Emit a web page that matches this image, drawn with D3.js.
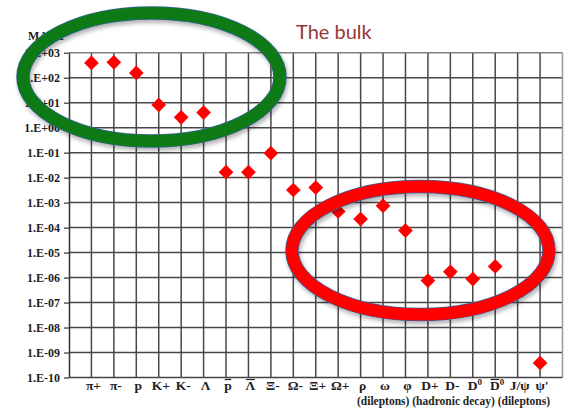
<!DOCTYPE html>
<html>
<head>
<meta charset="utf-8">
<script src="https://cdn.jsdelivr.net/npm/d3@7"></script>
<style>
  html, body { margin: 0; padding: 0; background: #fff; }
  svg { display: block; }
</style>
</head>
<body>
<svg id="chart" width="573" height="408"></svg>
<script>
// Particle species along the category axis
const categories = ["π+", "π-", "p", "K+", "K-", "Λ", "p̄", "Λ̄", "Ξ-", "Ω-", "Ξ+", "Ω+",
                    "ρ", "ω", "φ", "D+", "D-", "D0", "D̄0", "J/ψ", "ψ'"];
// Yield per species (null = no point)
const yields = [390, 410, 155, 8.1, 2.6, 4.0, 0.0165, 0.0165, 0.095, 3.2e-3, 4.0e-3, 4.4e-4,
                2.2e-4, 7.4e-4, 7.6e-5, 7.6e-7, 1.7e-6, 8.7e-7, 2.8e-6, null, 3.8e-10];
// Decade ticks on the log axis
const yTicks = [1e3, 1e2, 1e1, 1e0, 1e-1, 1e-2, 1e-3, 1e-4, 1e-5, 1e-6, 1e-7, 1e-8, 1e-9, 1e-10];
const yTickLabels = ["1.E+03", "1.E+02", "1.E+01", "1.E+00", "1.E-01", "1.E-02", "1.E-03",
                     "1.E-04", "1.E-05", "1.E-06", "1.E-07", "1.E-08", "1.E-09", "1.E-10"];
const subLabel = "(dileptons) (hadronic decay) (dileptons)";
const title = "The bulk";
const axisTitle = "MASA";

const svg = d3.select("#chart");
const plotL = 69, plotR = 562.5, plotT = 52.7, plotB = 377.5;

const x = d3.scaleLinear().domain([0, categories.length + 1]).range([plotL, plotR]);
const y = d3.scaleLog().domain([1e-10, 1e3]).range([plotB, plotT]);

const defs = svg.append("defs");
const sh = defs.append("filter").attr("id", "shadow")
  .attr("x", "-10%").attr("y", "-10%").attr("width", "120%").attr("height", "130%");
sh.append("feDropShadow").attr("dx", 1.5).attr("dy", 3).attr("stdDeviation", 2)
  .attr("flood-color", "#000").attr("flood-opacity", 0.3);

const serif = "'Liberation Serif', 'Times New Roman', serif";
const ink = "#1e1e1e";

// Grid: vertical lines at every category slot, horizontal at every decade
const grid = svg.append("g");
grid.selectAll("line.v").data(d3.range(1, categories.length + 1)).join("line")
  .attr("x1", d => x(d)).attr("x2", d => x(d))
  .attr("y1", plotT).attr("y2", plotB)
  .attr("stroke", "#484848").attr("stroke-width", 1.5);
grid.selectAll("line.h").data(yTicks.slice(1, -1)).join("line")
  .attr("x1", plotL).attr("x2", plotR)
  .attr("y1", d => y(d)).attr("y2", d => y(d))
  .attr("stroke", "#484848").attr("stroke-width", 1.5);
// Frame: lighter on top/right
grid.append("line").attr("x1", plotL).attr("x2", plotR).attr("y1", plotT).attr("y2", plotT)
  .attr("stroke", "#808080").attr("stroke-width", 1.5);
grid.append("line").attr("x1", plotR).attr("x2", plotR).attr("y1", plotT).attr("y2", plotB)
  .attr("stroke", "#999").attr("stroke-width", 1.5);

// Y axis with decade labels
const yAxis = d3.axisLeft(y).tickValues(yTicks)
  .tickFormat((d, i) => yTickLabels[i]).tickSize(5).tickSizeOuter(0).tickPadding(4);
const ga = svg.append("g").attr("transform", `translate(${plotL},0)`).call(yAxis);
ga.select(".domain").attr("stroke", "#333").attr("stroke-width", 1.5);
ga.selectAll(".tick line").attr("stroke", "#333").attr("stroke-width", 1.2);
ga.selectAll(".tick text").attr("font-family", serif).attr("font-weight", "bold")
  .attr("font-size", 12).attr("fill", ink);

// Bottom axis line
svg.append("line").attr("x1", plotL).attr("x2", plotR).attr("y1", plotB).attr("y2", plotB)
  .attr("stroke", "#444").attr("stroke-width", 1.5);

// Category labels; antiparticles get a bar drawn over the base letter
const cat = svg.append("g").attr("font-family", serif).attr("font-weight", "bold")
  .attr("font-size", 13.5).attr("fill", ink);
categories.forEach((c, i) => {
  const t = cat.append("text").attr("x", x(i + 1) + 2).attr("y", 390).attr("text-anchor", "middle");
  let barred = null;
  if (c === "p̄" || c === "Λ̄") {
    barred = t.append("tspan").text(c[0]);
  } else if (c === "D0") {
    t.append("tspan").text("D");
    t.append("tspan").attr("font-size", 9).attr("dy", -5).text("0");
  } else if (c === "D̄0") {
    barred = t.append("tspan").text("D");
    t.append("tspan").attr("font-size", 9).attr("dy", -5).text("0");
  } else {
    t.text(c);
  }
  if (barred) {
    const node = t.node();
    const ext = node.getExtentOfChar(0);
    cat.append("line")
      .attr("x1", ext.x + 0.5).attr("x2", ext.x + ext.width - 0.5)
      .attr("y1", 379.5).attr("y2", 379.5)
      .attr("stroke", ink).attr("stroke-width", 1.2);
  }
});
svg.append("text").attr("x", 357).attr("y", 405)
  .attr("font-family", serif).attr("font-weight", "bold").attr("font-size", 11.5)
  .attr("fill", ink).text(subLabel);

// Axis title and chart title
svg.append("text").attr("x", 28).attr("y", 40)
  .attr("font-family", serif).attr("font-weight", "bold").attr("font-size", 12)
  .attr("fill", ink).text(axisTitle);
svg.append("text").attr("x", 296).attr("y", 39)
  .attr("font-family", "Lato, 'Open Sans', sans-serif").attr("font-size", 20)
  .attr("fill", "#953735").text(title);

// Data markers: red diamonds
const diamond = d3.symbol(d3.symbolSquare, 108);
svg.append("g").selectAll("path")
  .data(yields.map((v, i) => ({ v, i })).filter(d => d.v != null))
  .join("path")
  .attr("d", diamond)
  .attr("transform", d => `translate(${x(d.i + 1)},${y(d.v)}) rotate(45)`)
  .attr("fill", "#ff0000");

// Highlight rings
const rings = [
  { cx: 151.5, cy: 77, color: "#0b7a17" },
  { cx: 420.5, cy: 250.5, color: "#ff0000" }
];
const rg = svg.append("g");
rings.forEach(r => {
  const g = rg.append("g").attr("filter", "url(#shadow)");
  g.append("ellipse").attr("cx", r.cx).attr("cy", r.cy).attr("rx", 128.5).attr("ry", 64)
    .attr("fill", "none").attr("stroke", "#3b5f9a").attr("stroke-width", 13.5);
  g.append("ellipse").attr("cx", r.cx).attr("cy", r.cy).attr("rx", 128.5).attr("ry", 64)
    .attr("fill", "none").attr("stroke", r.color).attr("stroke-width", 12);
});
</script>
</body>
</html>
